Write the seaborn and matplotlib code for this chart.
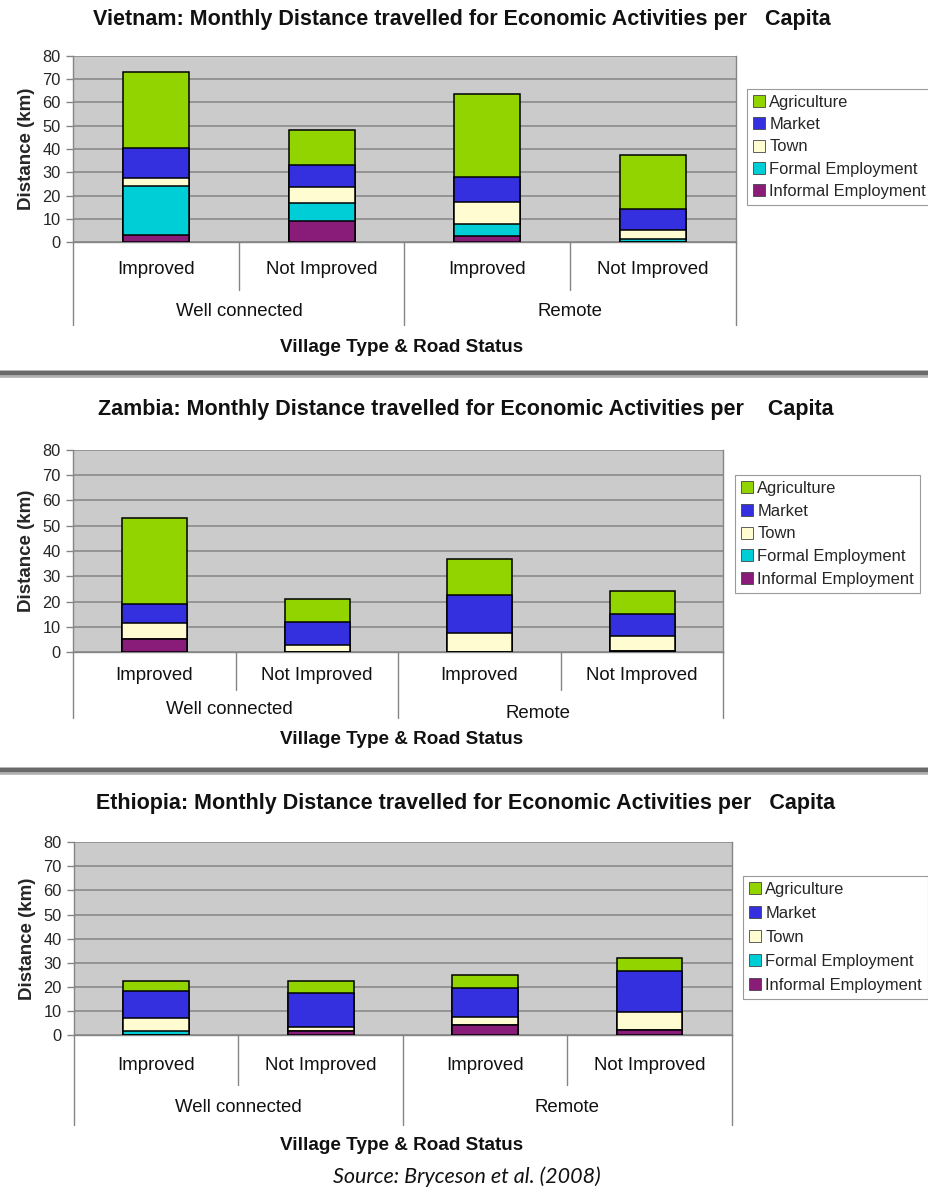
import matplotlib
matplotlib.use("Agg")
import matplotlib.pyplot as plt
import matplotlib.transforms as mtransforms
from matplotlib.patches import Patch
import pandas as pd
import seaborn as sns

sns.set_theme(style="white")
plt.rcParams["font.family"] = ["Liberation Sans", "DejaVu Sans"]

# ---- data -------------------------------------------------------------
road_status = ["Improved", "Not Improved", "Improved", "Not Improved"]
village_types = ["Well connected", "Remote"]
activities = ["Agriculture", "Market", "Town", "Formal Employment", "Informal Employment"]
activity_colors = ["#92D400", "#3430E0", "#FFFCD2", "#00CED6", "#891C78"]
y_ticks = [0, 10, 20, 30, 40, 50, 60, 70, 80]

# km per capita per month; order: WC-Improved, WC-Not improved, Remote-Improved, Remote-Not improved
vietnam_agriculture = [32.7, 15.1, 35.8, 23.5]
vietnam_market = [12.6, 9.3, 10.8, 8.8]
vietnam_town = [3.7, 6.7, 9.4, 4.0]
vietnam_formal = [21.0, 7.9, 4.8, 1.0]
vietnam_informal = [3.0, 9.1, 2.9, 0.3]

zambia_agriculture = [34.1, 8.8, 14.5, 9.1]
zambia_market = [7.3, 9.4, 15.0, 8.7]
zambia_town = [6.3, 2.6, 7.4, 6.1]
zambia_formal = [0.0, 0.0, 0.0, 0.0]
zambia_informal = [5.3, 0.0, 0.0, 0.4]

ethiopia_agriculture = [4.2, 5.2, 5.6, 5.5]
ethiopia_market = [11.2, 14.2, 11.7, 17.0]
ethiopia_town = [5.3, 1.5, 3.3, 7.5]
ethiopia_formal = [1.7, 0.0, 0.0, 0.0]
ethiopia_informal = [0.3, 1.8, 4.5, 2.2]

titles = [
    "Vietnam: Monthly Distance travelled for Economic Activities per   Capita",
    "Zambia: Monthly Distance travelled for Economic Activities per    Capita",
    "Ethiopia: Monthly Distance travelled for Economic Activities per   Capita",
]
y_label = "Distance (km)"
x_label = "Village Type & Road Status"
source_note = "Source: Bryceson et al. (2008)"

country_segments = [
    [vietnam_agriculture, vietnam_market, vietnam_town, vietnam_formal, vietnam_informal],
    [zambia_agriculture, zambia_market, zambia_town, zambia_formal, zambia_informal],
    [ethiopia_agriculture, ethiopia_market, ethiopia_town, ethiopia_formal, ethiopia_informal],
]

# ---- layout (pixel geometry of the page) ------------------------------
W, H = 929, 1192
fig = plt.figure(figsize=(W / 100, H / 100), dpi=100)
fig.patch.set_facecolor("white")


def fx(x):
    return x / W


def fy(y):
    return 1 - y / H


panels = [
    dict(box=(73.3, 55.7, 735.7, 242.3), title_y=20, title_x=462, tick_y=270,
         group=[(0, 311), (0, 311)], xl_y=347, inner_y=290, outer_y=325,
         legend=(747, 89), spacing=0.44),
    dict(box=(73.3, 450, 723.3, 652), title_y=410, title_x=466, tick_y=676,
         group=[(-6, 709), (-23, 713)], xl_y=739, inner_y=690, outer_y=718,
         legend=(735, 475), spacing=0.47),
    dict(box=(74, 842, 731.7, 1035.4), title_y=804, title_x=466, tick_y=1065,
         group=[(0, 1108), (0, 1108)], xl_y=1145, inner_y=1085, outer_y=1125,
         legend=(743, 876), spacing=0.55),
]

grid_gray = "#858585"
bar_slots = ["b0", "b1", "b2", "b3"]

for spec, segments, title in zip(panels, country_segments, titles):
    l, t, r, b = spec["box"]
    ax = fig.add_axes([fx(l), fy(b), fx(r) - fx(l), fy(t) - fy(b)])
    ax.set_facecolor("#CBCBCB")

    # stacked bars: cumulative tops drawn from the highest segment downwards
    bottom_up = list(reversed(segments))
    tops = []
    running = [0.0] * 4
    for seg in bottom_up:
        running = [a + s for a, s in zip(running, seg)]
        tops.append(list(running))
    for name, color, top in zip(activities, activity_colors, reversed(tops)):
        df = pd.DataFrame({"slot": bar_slots, "top": top})
        sns.barplot(data=df, x="slot", y="top", order=bar_slots, color=color,
                    saturation=1, width=0.4, edgecolor="black", linewidth=1.1,
                    errorbar=None, ax=ax, zorder=3)

    ax.set_xlim(-0.5, 3.5)
    ax.set_ylim(0, 80)
    ax.set_yticks(y_ticks)
    ax.set_yticklabels([str(v) for v in y_ticks], fontsize=11.8)
    ax.yaxis.grid(True, color=grid_gray, linewidth=1.1)
    ax.set_axisbelow(True)
    ax.set_xticks([])
    ax.set_xlabel("")
    ax.set_ylabel(y_label, fontsize=13.5, fontweight="bold", labelpad=5)
    ax.tick_params(axis="y", length=5, width=1, color=grid_gray, pad=4, left=True)
    for side in ["left", "bottom", "right"]:
        ax.spines[side].set_color(grid_gray)
        ax.spines[side].set_linewidth(1.0)
    ax.spines["top"].set_visible(False)

    blend = mtransforms.blended_transform_factory(ax.transData, fig.transFigure)
    unit_px = (r - l) / 4

    # category labels
    for i, lab in enumerate(road_status):
        ax.text(i, fy(spec["tick_y"]), lab, transform=blend, ha="center", va="center",
                fontsize=13.4, color="#111111")
    for (dx, gy), lab, xc in zip(spec["group"], village_types, [0.5, 2.5]):
        ax.text(xc + dx / unit_px, fy(gy), lab, transform=blend, ha="center", va="center",
                fontsize=13.4, color="#111111")

    # category dividers below the axis
    for xb, yend in [(-0.5, spec["outer_y"]), (0.5, spec["inner_y"]), (1.5, spec["outer_y"]),
                     (2.5, spec["inner_y"]), (3.5, spec["outer_y"])]:
        ax.plot([xb, xb], [fy(b), fy(yend)], transform=blend, color=grid_gray,
                linewidth=1.0, clip_on=False)

    fig.text(fx(402), fy(spec["xl_y"]), x_label, ha="center", va="center",
             fontsize=13.6, fontweight="bold", color="#111111")
    fig.text(fx(spec["title_x"]), fy(spec["title_y"]), title, ha="center", va="center",
             fontsize=15.5, fontweight="bold", color="#111111")

    handles = [Patch(facecolor=c, edgecolor="#444444", linewidth=0.6) for c in activity_colors]
    lx, ly = spec["legend"]
    leg = ax.legend(handles, activities, loc="upper left", bbox_to_anchor=(fx(lx), fy(ly)),
                    bbox_transform=fig.transFigure, fontsize=11.9, frameon=True,
                    fancybox=False, edgecolor="#9A9A9A", facecolor="white", framealpha=1,
                    handlelength=0.75, handleheight=0.75, handletextpad=0.25,
                    labelspacing=spec["spacing"], borderpad=0.35, borderaxespad=0)
    leg.get_frame().set_linewidth(0.8)

# heavy rules between the three charts
for yy in (374, 771):
    fig.add_artist(plt.Line2D([0, 1], [fy(yy), fy(yy)], color="#B0B0B0", linewidth=5.5,
                              transform=fig.transFigure))
    fig.add_artist(plt.Line2D([0, 1], [fy(yy - 0.8), fy(yy - 0.8)], color="#6A6A6A",
                              linewidth=3.0, transform=fig.transFigure))

fig.text(fx(467), fy(1177), source_note, ha="center", va="center", fontsize=15.5,
         style="italic", family=["Lato", "DejaVu Sans"], color="#111111")

fig.savefig("out.png", dpi=100, facecolor="white")
